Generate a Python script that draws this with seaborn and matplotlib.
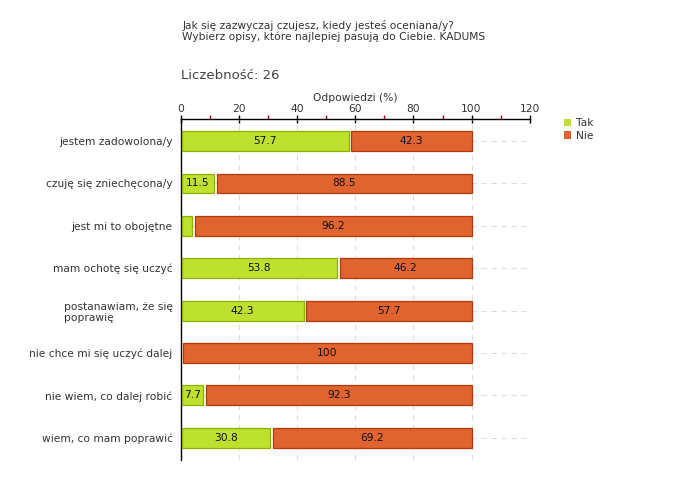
import matplotlib
matplotlib.use("Agg")
import matplotlib.pyplot as plt
import pandas as pd
import seaborn as sns
from matplotlib.patches import Patch

categories = [
    "jestem zadowolona/y",
    "czuję się zniechęcona/y",
    "jest mi to obojętne",
    "mam ochotę się uczyć",
    "postanawiam, że się\npoprawię",
    "nie chce mi się uczyć dalej",
    "nie wiem, co dalej robić",
    "wiem, co mam poprawić",
]
tak = [57.7, 11.5, 3.8, 53.8, 42.3, 0.0, 7.7, 30.8]
nie = [42.3, 88.5, 96.2, 46.2, 57.7, 100.0, 92.3, 69.2]
series = ["Tak", "Nie"]
x_ticks = [0, 20, 40, 60, 80, 100, 120]

GREEN = "#bee130"
GREEN_EDGE = "#8cb000"
ORANGE = "#e06430"
ORANGE_EDGE = "#b33a08"
TEXT = "#333333"
GAP = 0.9
FS = 7.7


def main() -> None:
    sns.set_style("white")
    plt.rcParams["font.family"] = ["DejaVu Sans"]

    df = pd.DataFrame({"kategoria": categories, "Tak": tak, "Nie": nie})

    fig = plt.figure(figsize=(6.8, 4.8), dpi=100)
    ax = fig.add_axes([0.266, 0.042, 0.513, 0.71])

    sns.barplot(data=df, y="kategoria", x="Tak", color=GREEN, ax=ax, width=0.47,
                edgecolor=GREEN_EDGE, linewidth=0.9, saturation=1, zorder=3)
    n_tak = len(ax.patches)
    sns.barplot(data=df, y="kategoria", x="Nie", color=ORANGE, ax=ax, width=0.47,
                edgecolor=ORANGE_EDGE, linewidth=0.9, saturation=1, zorder=3)

    tak_patches = ax.patches[:n_tak]
    nie_patches = ax.patches[n_tak:]
    for patch, t, n in zip(tak_patches, tak, nie):
        patch.set_x(0.4)
        patch.set_width(max(t - 0.4, 0))
        if t <= 0:
            patch.set_visible(False)
        elif t >= 7:
            ax.text(t / 2, patch.get_y() + patch.get_height() / 2, f"{t:.1f}",
                    ha="center", va="center", fontsize=FS, color="#111111", zorder=4)
    for patch, t, n in zip(nie_patches, tak, nie):
        start = t + GAP
        patch.set_x(start)
        patch.set_width(t + n - start)
        label = f"{n:.0f}" if n == 100 else f"{n:.1f}"
        ax.text(start + (t + n - start) / 2, patch.get_y() + patch.get_height() / 2, label,
                ha="center", va="center", fontsize=FS, color="#111111", zorder=4)

    ax.set_xlim(0, 120)
    ax.set_ylim(len(categories) - 1 + 0.52, -0.52)
    ax.xaxis.tick_top()
    ax.xaxis.set_label_position("top")
    ax.set_xticks(x_ticks)
    ax.set_xticks([10, 30, 50, 70, 90, 110], minor=True)
    ax.tick_params(axis="x", which="major", direction="inout", length=6, width=1,
                   colors="black", labelcolor=TEXT, labelsize=FS, pad=0.5)
    ax.tick_params(axis="x", which="minor", direction="out", length=3, width=1, colors="#d00000")
    ax.tick_params(axis="y", which="major", direction="out", length=3, width=0.8,
                   colors=TEXT, labelsize=FS, pad=3)
    ax.set_xlabel("Odpowiedzi (%)", fontsize=FS, color=TEXT, labelpad=2)
    ax.set_ylabel("")
    for lbl in ax.get_yticklabels():
        lbl.set_multialignment("left")

    for spine in ["right", "bottom"]:
        ax.spines[spine].set_visible(False)
    for spine in ["top", "left"]:
        ax.spines[spine].set_color("black")
        ax.spines[spine].set_linewidth(1)

    for x in x_ticks[1:]:
        ax.axvline(x, color="#dddddd", linestyle=(0, (5, 4)), linewidth=0.8, zorder=1)
    for y in range(len(categories)):
        ax.axhline(y, color="#dddddd", linestyle=(0, (5, 4)), linewidth=0.8, zorder=1)

    handles = [Patch(facecolor=GREEN, edgecolor="none"), Patch(facecolor=ORANGE, edgecolor="none")]
    fig.legend(handles, series, loc="upper left", bbox_to_anchor=(0.815, 0.774), frameon=False,
               fontsize=FS, handlelength=0.7, handleheight=0.7, handletextpad=0.4,
               labelspacing=0.25, labelcolor=TEXT)

    fig.text(0.268, 0.936, "Jak się zazwyczaj czujesz, kiedy jesteś oceniana/y?\n"
             "Wybierz opisy, które najlepiej pasują do Ciebie. KADUMS",
             fontsize=FS, color=TEXT, va="center", ha="left", linespacing=1.05)
    fig.text(0.266, 0.843, "Liczebność: 26", fontsize=9.5, color="#444444", va="center", ha="left")

    fig.savefig("out.png", dpi=100)
    plt.close(fig)


if __name__ == "__main__":
    main()
